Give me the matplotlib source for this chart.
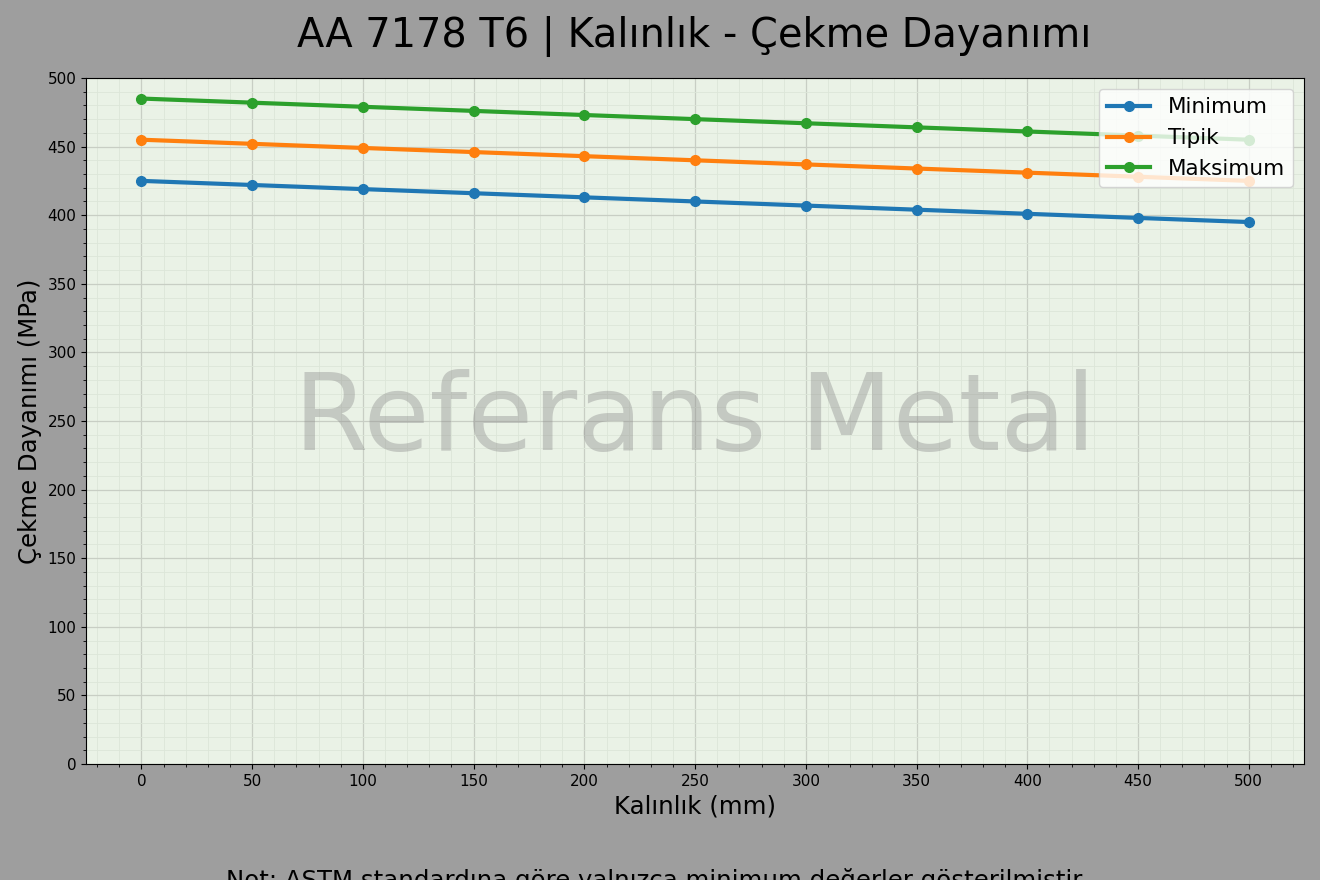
import matplotlib
matplotlib.use("Agg")
import matplotlib.pyplot as plt
from matplotlib.ticker import MultipleLocator

thickness = [0, 50, 100, 150, 200, 250, 300, 350, 400, 450, 500]
minimum = [425, 422, 419, 416, 413, 410, 407, 404, 401, 398, 395]
tipik = [455, 452, 449, 446, 443, 440, 437, 434, 431, 428, 425]
maksimum = [485, 482, 479, 476, 473, 470, 467, 464, 461, 458, 455]
series_labels = ["Minimum", "Tipik", "Maksimum"]

fig = plt.figure(figsize=(13.2, 8.8), dpi=100, facecolor="#9e9e9e")
ax = fig.add_axes([0.0652, 0.1318, 0.9228, 0.7796])
ax.set_facecolor("#eaf2e6")

for vals, lab, col in zip([minimum, tipik, maksimum], series_labels,
                          ["#1f77b4", "#ff7f0e", "#2ca02c"]):
    ax.plot(thickness, vals, marker="o", lw=3, ms=7, color=col, label=lab, zorder=3)

ax.set_xlim(-25, 525)
ax.set_ylim(0, 500)
ax.xaxis.set_major_locator(MultipleLocator(50))
ax.yaxis.set_major_locator(MultipleLocator(50))
ax.xaxis.set_minor_locator(MultipleLocator(10))
ax.yaxis.set_minor_locator(MultipleLocator(10))
ax.grid(True, which="major", color="#c8cec4", lw=0.9)
ax.grid(True, which="minor", color="#dce6d8", lw=0.6)
ax.set_axisbelow(True)
ax.tick_params(labelsize=11)

ax.text(0.5, 0.5, "Referans Metal", transform=ax.transAxes, ha="center", va="center",
        fontsize=77, color="#8c8c8c", alpha=0.4, zorder=2)

ax.set_xlabel("Kalınlık (mm)", fontsize=17.6)
ax.set_ylabel("Çekme Dayanımı (MPa)", fontsize=17.6)
fig.text(0.526, 0.958, "AA 7178 T6 | Kalınlık - Çekme Dayanımı", ha="center", va="center",
         fontsize=28.7)
ax.legend(loc="upper right", fontsize=15.5, framealpha=0.8)
fig.text(0.498, 0.0, "Not: ASTM standardına göre yalnızca minimum değerler gösterilmiştir.",
         ha="center", va="center", fontsize=17.6)

fig.savefig("out.png", dpi=100, facecolor=fig.get_facecolor())
